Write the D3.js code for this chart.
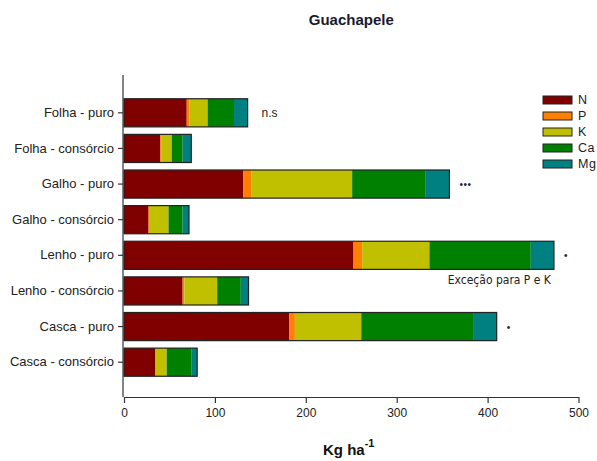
<!DOCTYPE html>
<html>
<head>
<meta charset="utf-8">
<script src="https://cdn.jsdelivr.net/npm/d3@7"></script>
<style>
  body { margin: 0; background: #fff; }
  svg { font-family: "Liberation Sans", Arial, sans-serif; }
</style>
</head>
<body>
<div id="chart"></div>
<script>
width = 597
height = 461

margin = ({ top: 95, right: 18.5, bottom: 64, left: 124 })

// categorias e nutrientes
categories = ["Folha - puro", "Folha - consórcio", "Galho - puro", "Galho - consórcio",
  "Lenho - puro", "Lenho - consórcio", "Casca - puro", "Casca - consórcio"]
nutrients = ["N", "P", "K", "Ca", "Mg"]
colors = ["#800000", "#ff8000", "#c0c000", "#008000", "#008080"]

N = [69, 40, 131, 27, 252.5, 64.5, 182, 34.5]
P = [3, 1.5, 9, 0.5, 9.5, 2, 6, 0.5]
K = [20, 11, 111, 21.5, 74, 36, 73, 12]
Ca = [29, 12, 81, 15.5, 111.5, 26, 123, 27.5]
Mg = [15, 9.5, 26, 7, 25.5, 8.5, 26, 6]

xTicks = [0, 100, 200, 300, 400, 500]

// anotações ao lado das barras
notes = [
  { cat: "Folha - puro", text: "n.s" },
  { cat: "Galho - puro", text: "•••" },
  { cat: "Lenho - puro", text: "•" },
  { cat: "Casca - puro", text: "•" }
]

const table = categories.map((c, i) => ({ cat: c, N: N[i], P: P[i], K: K[i], Ca: Ca[i], Mg: Mg[i] }))
const series = d3.stack().keys(nutrients)(table)

const axisY = 397   // posição da linha do eixo x

x = d3.scaleLinear([0, 500], [margin.left, width - margin.right])
y = d3.scaleBand(categories, [margin.top, 380]).paddingInner(0.21).paddingOuter(0.105)
color = d3.scaleOrdinal(nutrients, colors)

const svg = d3.select("#chart").append("svg")
  .attr("width", width)
  .attr("height", height)

// título
svg.append("text")
  .attr("x", (x(0) + x(500)) / 2).attr("y", 25)
  .attr("text-anchor", "middle")
  .attr("font-weight", "bold")
  .attr("font-size", 15)
  .attr("fill", "#1a1a2e")
  .text("Guachapele")

// barras empilhadas
svg.append("g")
  .selectAll("g")
  .data(series)
  .join("g")
  .attr("fill", d => color(d.key))
  .selectAll("rect")
  .data(d => d)
  .join("rect")
  .attr("x", d => x(d[0]))
  .attr("y", d => y(d.data.cat))
  .attr("width", d => x(d[1]) - x(d[0]))
  .attr("height", y.bandwidth())

// contorno de cada barra
svg.append("g")
  .selectAll("rect")
  .data(series[series.length - 1])
  .join("rect")
  .attr("x", x(0))
  .attr("y", d => y(d.data.cat))
  .attr("width", d => x(d[1]) - x(0))
  .attr("height", y.bandwidth())
  .attr("fill", "none")
  .attr("stroke", "#222")
  .attr("stroke-width", 1.2)

// eixo x
xAxis = g => g
  .attr("transform", `translate(0,${axisY})`)
  .call(d3.axisBottom(x).tickValues(xTicks).tickSize(6).tickSizeOuter(0).tickPadding(5))
  .call(g => g.select(".domain").attr("stroke", "#333").attr("stroke-width", 1.2))
  .call(g => g.selectAll(".tick line").attr("stroke", "#333").attr("stroke-width", 1.2))
  .call(g => g.selectAll(".tick text").attr("font-size", 12).attr("fill", "#222")
    .attr("font-family", "Liberation Sans, Arial, sans-serif"))

// eixo y
yAxis = g => g
  .attr("transform", `translate(${margin.left - 1},0)`)
  .call(d3.axisLeft(y).tickSize(5).tickSizeOuter(0).tickPadding(4))
  .call(g => g.select(".domain").remove())
  .call(g => g.append("line")
    .attr("y1", 75).attr("y2", axisY)
    .attr("stroke", "#333").attr("stroke-width", 1.2))
  .call(g => g.selectAll(".tick line").attr("stroke", "#333").attr("stroke-width", 1.2))
  .call(g => g.selectAll(".tick text").attr("font-size", 13).attr("fill", "#222")
    .attr("font-family", "Liberation Sans, Arial, sans-serif"))

svg.append("g").call(xAxis)
svg.append("g").call(yAxis)

// rótulo do eixo x
const xl = svg.append("text")
  .attr("x", 323).attr("y", 455)
  .attr("font-weight", "bold")
  .attr("font-size", 15)
  .attr("fill", "#111")
xl.append("tspan").text("Kg ha")
xl.append("tspan").attr("dy", -8).attr("font-size", 11).text("-1")

// legenda
const legend = svg.append("g")
  .selectAll("g")
  .data(nutrients)
  .join("g")
  .attr("transform", (d, i) => `translate(543,${96 + i * 16})`)
legend.append("rect")
  .attr("width", 29).attr("height", 8)
  .attr("fill", d => color(d))
  .attr("stroke", "#222").attr("stroke-width", 1)
legend.append("text")
  .attr("x", 35).attr("y", 8)
  .attr("font-size", 12.5).attr("fill", "#222")
  .attr("letter-spacing", 0.5)
  .text(d => d)

// anotações
const total = d => N[d] + P[d] + K[d] + Ca[d] + Mg[d]
svg.append("g")
  .selectAll("text")
  .data(notes)
  .join("text")
  .attr("x", d => x(total(categories.indexOf(d.cat))) + (d.text === "n.s" ? 14 : 10))
  .attr("y", d => y(d.cat) + y.bandwidth() / 2 + 4)
  .attr("font-size", d => d.text === "n.s" ? 12 : 10)
  .attr("letter-spacing", d => d.text === "n.s" ? 0 : 0.5)
  .attr("fill", "#222")
  .text(d => d.text)

svg.append("text")
  .attr("x", x(total(4)) - 3)
  .attr("y", y("Lenho - puro") + y.bandwidth() + 14.5)
  .attr("text-anchor", "end")
  .attr("font-family", "DejaVu Sans Condensed, DejaVu Sans, sans-serif")
  .attr("font-size", 12)
  .attr("fill", "#222")
  .text("Exceção para P e K")
</script>
</body>
</html>
